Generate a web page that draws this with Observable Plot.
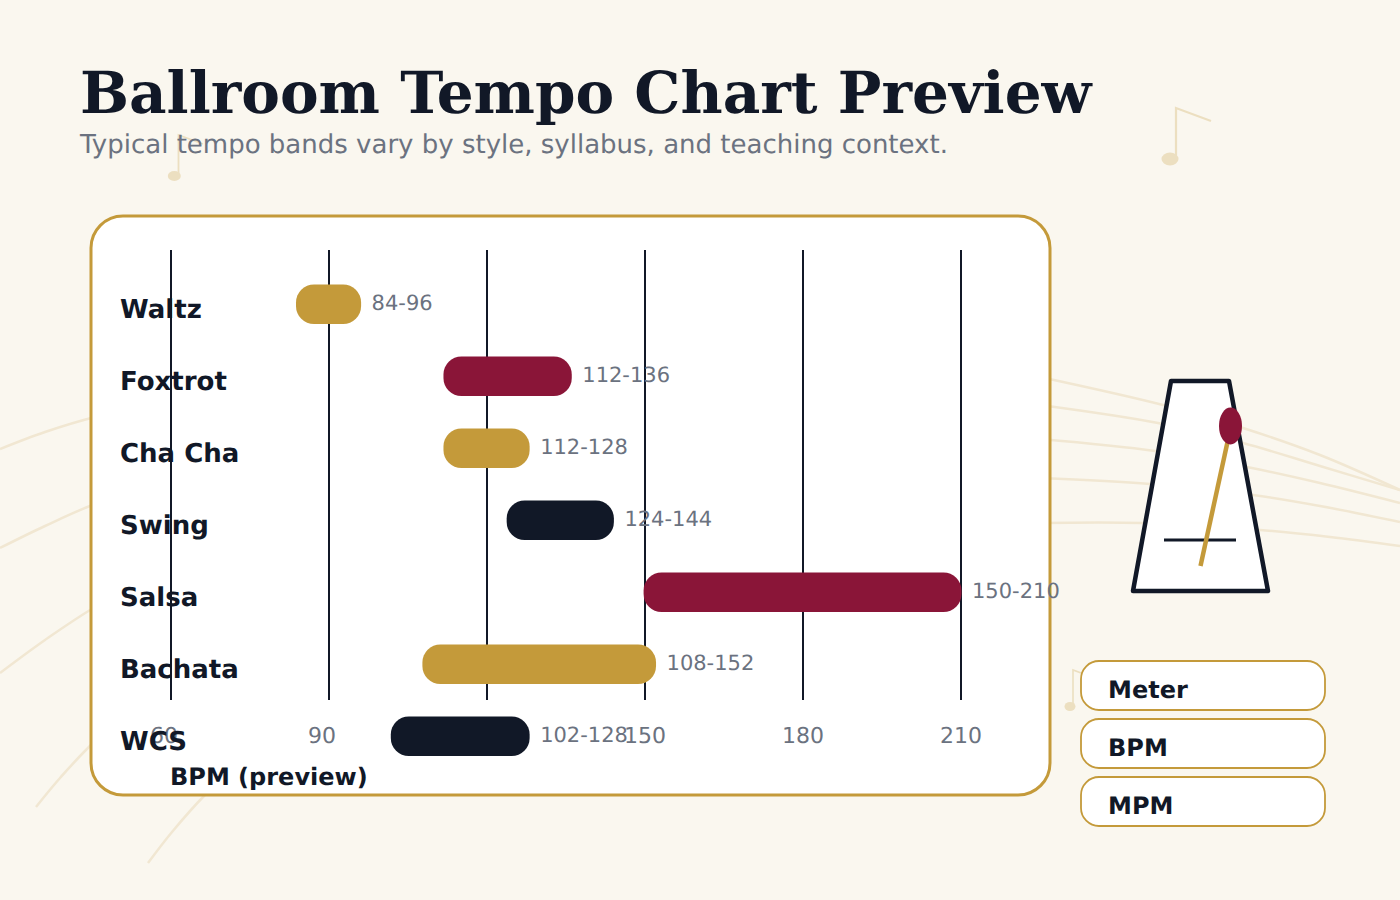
<!DOCTYPE html>
<html>
<head>
<meta charset="utf-8">
<script src="https://cdn.jsdelivr.net/npm/d3@7"></script>
<script src="https://cdn.jsdelivr.net/npm/@observablehq/plot@0.6"></script>
<style>
html,body{margin:0;padding:0;background:#faf7ef;}
#page{position:relative;width:1400px;height:900px;overflow:hidden;background:#faf7ef;text-rendering:geometricPrecision;}
#page svg{position:absolute;left:0;top:0;text-rendering:geometricPrecision;}
h1{position:absolute;z-index:2;left:80px;top:60px;margin:0;font:bold 58px/66px "DejaVu Serif";color:#111827;white-space:nowrap;}
p{position:absolute;z-index:2;left:80px;top:129px;margin:0;font:26px/32px "DejaVu Sans";color:#6b7280;white-space:nowrap;}
</style>
</head>
<body>
<div id="page">
<h1>Ballroom Tempo Chart Preview</h1>
<p>Typical tempo bands vary by style, syllabus, and teaching context.</p>
</div>
<script>
const dances = ["Waltz","Foxtrot","Cha Cha","Swing","Salsa","Bachata","WCS"];
const lows   = [84,112,112,124,150,108,102];
const highs  = [96,136,128,144,210,152,128];
const bandLabels = ["84-96","112-136","112-128","124-144","150-210","108-152","102-128"];
const bandColors = ["#c49a3a","#8a1538","#c49a3a","#111827","#8a1538","#c49a3a","#111827"];
const bpmTicks = [60,90,120,150,180,210];
const infoLabels = ["Meter","BPM","MPM"];

const rows = dances.map((name,i)=>({name,low:lows[i],high:highs[i],label:bandLabels[i],color:bandColors[i]}));

const NAVY="#111827", GOLD="#c49a3a", CRIMSON="#8a1538", GRAY="#6b7280", WASH="#f1e7d2", NOTE="#ecdfc0";
const FONT="DejaVu Sans";

function backdrop(){
  const g=d3.create("svg:g");
  const curve=d3.line().curve(d3.curveCatmullRom.alpha(0.5));
  [
    [[0,449],[45,432],[95,417],[200,395]],
    [[0,548],[45,526],[95,504],[200,470]],
    [[0,673],[45,640],[95,607],[200,550]],
    [[36,807],[60,778],[95,741],[200,650]],
    [[148,863],[172,832],[205,795],[260,745]],
    [[1040,377],[1163,405],[1243,428],[1320,455],[1400,490]],
    [[1040,405],[1158,423],[1243,443],[1320,466],[1400,490]],
    [[1040,439],[1155,451],[1247,467],[1320,483],[1400,503]],
    [[1040,478],[1150,484],[1253,495],[1320,506],[1400,522]],
    [[1040,523],[1142,523],[1260,530],[1330,537],[1400,546]]
  ].forEach(p=>g.append("path").attr("d",curve(p)).attr("fill","none").attr("stroke",WASH).attr("stroke-width",2.5));

  [[1176,108,160,1211,121,1170,159,8.5,6.5,2.2],[178.5,135,176,203,144,174.3,176,6.5,5,1.8],[1073,670,706,1097,679,1070,706.5,5.5,4.5,1.6]]
  .forEach(([sx,st,sb,fx,fy,hx,hy,rx,ry,w])=>{
    g.append("path").attr("d",`M${sx},${sb}L${sx},${st}L${fx},${fy}`).attr("fill","none").attr("stroke",NOTE).attr("stroke-width",w);
    g.append("ellipse").attr("cx",hx).attr("cy",hy).attr("rx",rx).attr("ry",ry).attr("fill",NOTE);
  });

  g.append("rect").attr("x",91).attr("y",216).attr("width",959).attr("height",579).attr("rx",32)
    .attr("fill","#fff").attr("stroke",GOLD).attr("stroke-width",3);

  g.append("path").attr("d","M1171,381L1229,381L1268,591L1133,591Z").attr("fill","#fff")
    .attr("stroke",NAVY).attr("stroke-width",4.5).attr("stroke-linejoin","round");
  g.append("line").attr("x1",1164).attr("x2",1236).attr("y1",540).attr("y2",540).attr("stroke",NAVY).attr("stroke-width",3);
  g.append("line").attr("x1",1200.5).attr("y1",566).attr("x2",1231).attr("y2",426).attr("stroke",GOLD).attr("stroke-width",4.5);
  g.append("ellipse").attr("cx",1230.5).attr("cy",426).attr("rx",11.5).attr("ry",18.5).attr("fill",CRIMSON);

  infoLabels.forEach((t,i)=>{
    const y=661+58*i;
    g.append("rect").attr("x",1081).attr("y",y).attr("width",244).attr("height",49).attr("rx",18)
      .attr("fill","#fff").attr("stroke",GOLD).attr("stroke-width",1.8);
    g.append("text").attr("x",1108).attr("y",y+37).attr("fill",NAVY).attr("text-anchor","start")
      .attr("font-family",FONT).attr("font-weight","bold").attr("font-size",24).text(t);
  });
  return g.node();
}

const chart = Plot.plot({
  width:1400, height:900, margin:0,
  style:{background:"transparent",fontFamily:FONT},
  x:{domain:[60,210],range:[171,961],axis:null},
  y:{domain:dances,range:[268,772],padding:0,axis:null},
  marks:[
    backdrop,
    Plot.ruleX(bpmTicks,{x:d=>d,dx:-0.5,insetTop:250,insetBottom:200,stroke:NAVY,strokeWidth:2}),
    Plot.text(bpmTicks,{x:d=>d,text:d=>String(d),frameAnchor:"top",lineAnchor:"middle",textAnchor:"start",dx:-21.5,dy:735,fill:GRAY,fontSize:22}),
    Plot.barX(rows,{x1:"low",x2:"high",y:"name",fill:"color",insetTop:16.5,insetBottom:16,insetLeft:-1.4,insetRight:-0.5,rx:18,ry:18}),
    Plot.text(rows,{x:"high",y:"name",text:"label",textAnchor:"start",dx:10.5,dy:-1.5,fill:GRAY,fontSize:21}),
    Plot.text(rows,{y:"name",text:"name",frameAnchor:"left",textAnchor:"start",dx:119.5,dy:5.5,fill:NAVY,fontSize:26,fontWeight:"bold"}),
    Plot.text(["BPM (preview)"],{frameAnchor:"top-left",lineAnchor:"middle",textAnchor:"start",dx:169.5,dy:777,fill:NAVY,fontSize:24,fontWeight:"bold"})
  ]
});
document.getElementById("page").appendChild(chart);
</script>
</body>
</html>
